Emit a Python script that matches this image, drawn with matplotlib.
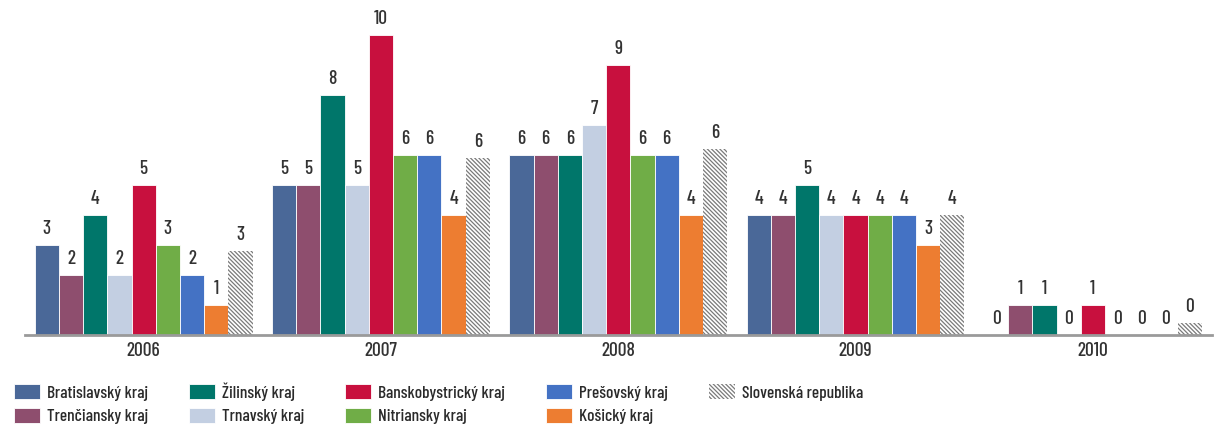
import numpy as np
import matplotlib
matplotlib.use('Agg')
import matplotlib.pyplot as plt

plt.rcParams['font.family'] = ['Barlow Condensed', 'DejaVu Sans']
plt.rcParams['hatch.linewidth'] = 0.9
plt.rcParams['hatch.color'] = '#7a7a7a'

roky = ['2006', '2007', '2008', '2009', '2010']

bratislavsky = [3, 5, 6, 4, 0]
trenciansky = [2, 5, 6, 4, 1]
zilinsky = [4, 8, 6, 5, 1]
trnavsky = [2, 5, 7, 4, 0]
banskobystricky = [5, 10, 9, 4, 1]
nitriansky = [3, 6, 6, 4, 0]
presovsky = [2, 6, 6, 4, 0]
kosicky = [1, 4, 4, 3, 0]
slovensko = [2.8, 5.9, 6.2, 4.0, 0.4]

serie = [
    ('Bratislavský kraj', bratislavsky, '#4a6898'),
    ('Trenčiansky kraj', trenciansky, '#8e4e6e'),
    ('Žilinský kraj', zilinsky, '#00766a'),
    ('Trnavský kraj', trnavsky, '#c3cfe2'),
    ('Banskobystrický kraj', banskobystricky, '#c8103e'),
    ('Nitriansky kraj', nitriansky, '#70ad47'),
    ('Prešovský kraj', presovsky, '#4472c4'),
    ('Košický kraj', kosicky, '#ed7d31'),
    ('Slovenská republika', slovensko, 'white'),
]

fig = plt.figure(figsize=(12.17, 4.32), dpi=100)
ax = fig.add_axes([0.0205, 0.2245, 0.975, 0.764])

x = np.arange(len(roky))
w = 0.102
n = len(serie)
for i, (nazov, hodnoty, farba) in enumerate(serie):
    pos = x + (i - (n - 1) / 2) * w
    if nazov == 'Slovenská republika':
        # priemer za SR - šrafovaný stĺpec
        bars = ax.bar(pos, hodnoty, w, color='white', edgecolor='#7a7a7a',
                      hatch='\\' * 8, linewidth=0, label=nazov)
    else:
        bars = ax.bar(pos, hodnoty, w, color=farba, edgecolor='white',
                      linewidth=0.6, label=nazov)
    ax.bar_label(bars, fmt='%.0f', padding=5, fontsize=14, fontweight=500,
                 color='#333333')

ax.set_xlim(-0.5, 4.5)
ax.set_ylim(0, 11)
ax.set_xticks(x)
ax.set_xticklabels(roky, fontsize=14, fontweight=500, color='#333333')
ax.tick_params(axis='x', length=0, pad=5)
ax.set_yticks([])
for s in ['top', 'right', 'left']:
    ax.spines[s].set_visible(False)
ax.spines['bottom'].set_color('#9a9a9a')
ax.spines['bottom'].set_linewidth(2)

fig.legend(loc='upper left', bbox_to_anchor=(0.006, 0.131), ncol=5,
           frameon=False, prop={'size': 12.5, 'weight': 500},
           handlelength=1.5, handleheight=0.95,
           handletextpad=0.4, columnspacing=2.35, labelspacing=0.4,
           labelcolor='#2a2a2a', borderaxespad=0)

fig.savefig('out.png', dpi=100)
